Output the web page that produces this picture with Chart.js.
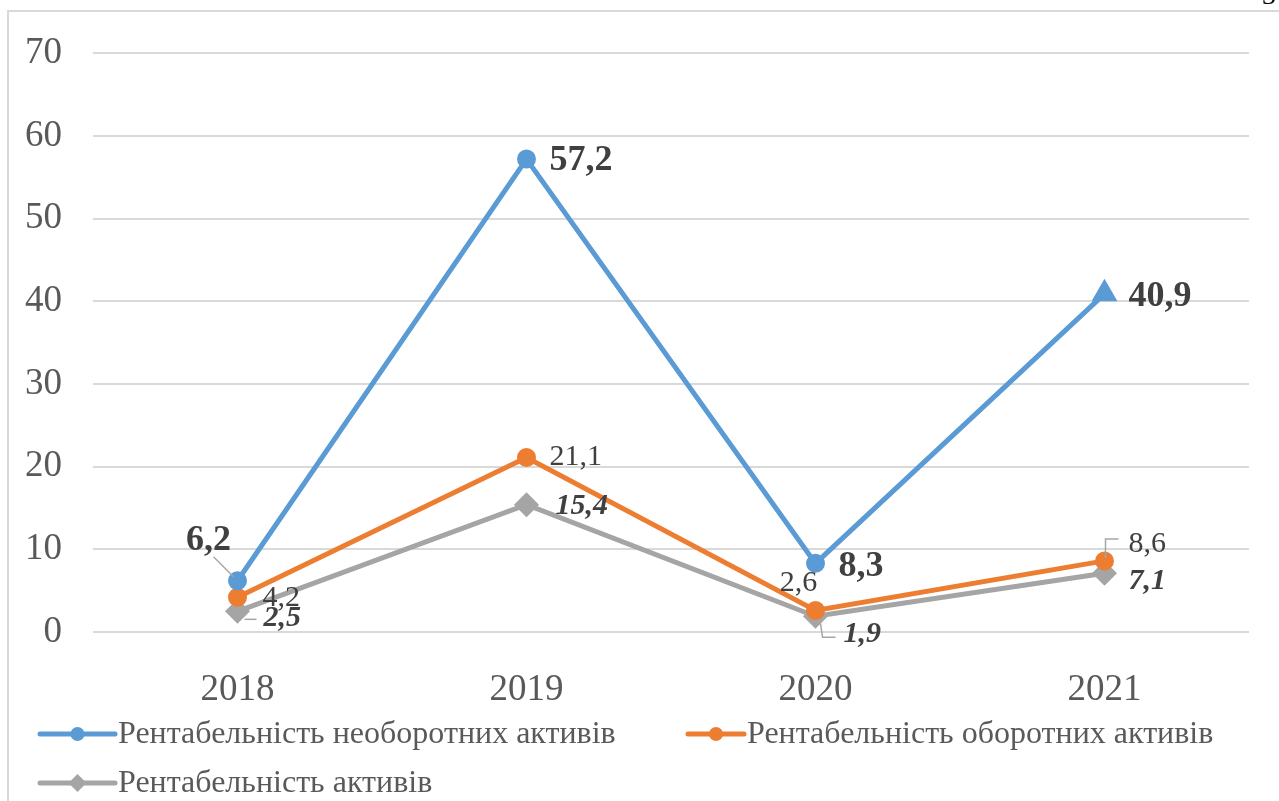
<!DOCTYPE html>
<html>
<head>
<meta charset="utf-8">
<script src="https://cdn.jsdelivr.net/npm/chart.js@4.4.1/dist/chart.umd.min.js"></script>
<style>
  html, body { margin: 0; padding: 0; background: #fff; }
  #wrap { width: 1279px; height: 801px; position: relative; }
</style>
</head>
<body>
<div id="wrap"><canvas id="myChart"></canvas></div>
<script>
const years = ['2018', '2019', '2020', '2021'];
const fixedAssetsReturn = [6.2, 57.2, 8.3, 40.9];
const currentAssetsReturn = [4.2, 21.1, 2.6, 8.6];
const assetsReturn = [2.5, 15.4, 1.9, 7.1];
const yTicks = [0, 10, 20, 30, 40, 50, 60, 70];
const seriesNames = [
  'Рентабельність необоротних активів',
  'Рентабельність оборотних активів',
  'Рентабельність активів'
];

const FONT = "'Liberation Serif', 'Times New Roman', serif";
const colors = ['#5b9bd5', '#ed7d31', '#a5a5a5'];

// label placement relative to each point: [dx, dy, align, leader]
const labelPos = [
  [[-29, -40, 'center', [[-24, -24], [-4, -4]]], [23, 2, 'left'], [23, 3, 'left'], [24, 3, 'left']],
  [[25, 1, 'left'], [23, 0, 'left'], [-17, -27, 'center'], [24, -17, 'left', [[1, -3], [1, -22], [14, -22]]]],
  [[26, 7, 'left', [[7, 8], [19, 8]]], [29, 2, 'left'], [28, 18, 'left', [[5, 7], [7, 21], [20, 21]]], [24, 8, 'left']]
];
const labelFonts = [
  'bold 36px ' + FONT,
  '30px ' + FONT,
  'italic bold 30px ' + FONT
];

const dataLabels = {
  id: 'dataLabels',
  afterDatasetsDraw(chart) {
    const ctx = chart.ctx;
    chart.data.datasets.forEach((ds, di) => {
      const meta = chart.getDatasetMeta(di);
      meta.data.forEach((pt, i) => {
        const p = labelPos[di][i];
        ctx.save();
        if (p[3]) {
          ctx.strokeStyle = '#a6a6a6';
          ctx.lineWidth = 1.5;
          ctx.beginPath();
          p[3].forEach((q, k) => {
            if (k === 0) ctx.moveTo(pt.x + q[0], pt.y + q[1]);
            else ctx.lineTo(pt.x + q[0], pt.y + q[1]);
          });
          ctx.stroke();
        }
        ctx.font = labelFonts[di];
        ctx.fillStyle = '#404040';
        ctx.textAlign = p[2];
        ctx.textBaseline = 'middle';
        ctx.fillText(String(ds.data[i]).replace('.', ','), pt.x + p[0], pt.y + p[1]);
        ctx.restore();
      });
    });
  }
};

const frameAndLegend = {
  id: 'frameAndLegend',
  afterDraw(chart) {
    const ctx = chart.ctx;
    ctx.save();
    // outer chart frame (continues beyond the picture)
    ctx.strokeStyle = '#d9d9d9';
    ctx.lineWidth = 2;
    ctx.beginPath();
    ctx.moveTo(8, 801);
    ctx.lineTo(8, 11);
    ctx.lineTo(1279, 11);
    ctx.stroke();
    // page number cut at the top
    ctx.fillStyle = '#000';
    ctx.font = '28px ' + FONT;
    ctx.textAlign = 'left';
    ctx.textBaseline = 'alphabetic';
    ctx.fillText('3', 1262, 4);

    // legend
    const items = [
      { x: 40, y: 734, len: 75, style: 'circle' },
      { x: 688, y: 734, len: 56, style: 'circle' },
      { x: 40, y: 783, len: 75, style: 'rectRot' }
    ];
    items.forEach((it, i) => {
      ctx.strokeStyle = colors[i];
      ctx.fillStyle = colors[i];
      ctx.lineWidth = 5;
      ctx.lineCap = 'round';
      ctx.beginPath();
      ctx.moveTo(it.x, it.y);
      ctx.lineTo(it.x + it.len, it.y);
      ctx.stroke();
      const cx = it.x + it.len / 2;
      ctx.beginPath();
      if (it.style === 'circle') {
        ctx.arc(cx, it.y, 7, 0, Math.PI * 2);
      } else {
        ctx.moveTo(cx, it.y - 9);
        ctx.lineTo(cx + 9, it.y);
        ctx.lineTo(cx, it.y + 9);
        ctx.lineTo(cx - 9, it.y);
        ctx.closePath();
      }
      ctx.fill();
      ctx.fillStyle = '#595959';
      ctx.font = '32px ' + FONT;
      ctx.textBaseline = 'middle';
      ctx.fillText(seriesNames[i], it.x + it.len + 3, it.y + 1);
    });
    ctx.restore();
  }
};

const config = {
  type: 'line',
  data: {
    labels: years,
    datasets: [
      {
        label: seriesNames[0],
        data: fixedAssetsReturn,
        borderColor: colors[0],
        backgroundColor: colors[0],
        borderWidth: 5,
        pointStyle: ['circle', 'circle', 'circle', 'triangle'],
        pointRadius: [7, 7, 7, 10],
      },
      {
        label: seriesNames[1],
        data: currentAssetsReturn,
        borderColor: colors[1],
        backgroundColor: colors[1],
        borderWidth: 5,
        pointStyle: 'circle',
        pointRadius: 7,
      },
      {
        label: seriesNames[2],
        data: assetsReturn,
        borderColor: colors[2],
        backgroundColor: colors[2],
        borderWidth: 5,
        pointStyle: 'rectRot',
        pointRadius: 9,
      }
    ]
  },
  options: {
    responsive: true,
    maintainAspectRatio: false,
    animation: false,
    layout: { padding: { left: 8, right: 30, top: 51, bottom: 89 } },
    plugins: {
      legend: { display: false },
      title: { display: false },
      tooltip: { enabled: false }
    },
    scales: {
      x: {
        offset: true,
        grid: { display: false },
        border: { display: false },
        afterFit: s => { s.height = 80; },
        ticks: {
          color: '#595959',
          padding: 28,
          font: { family: FONT, size: 37 }
        }
      },
      y: {
        min: yTicks[0],
        max: yTicks[yTicks.length - 1],
        afterFit: s => { s.width = 85; },
        afterBuildTicks: s => { s.ticks = yTicks.map(v => ({ value: v })); },
        grid: { color: '#d9d9d9', lineWidth: 2, drawTicks: false },
        border: { display: false },
        ticks: {
          color: '#595959',
          padding: 31,
          font: { family: FONT, size: 37 }
        }
      }
    }
  },
  plugins: [dataLabels, frameAndLegend]
};

new Chart(document.getElementById('myChart').getContext('2d'), config);
</script>
</body>
</html>
